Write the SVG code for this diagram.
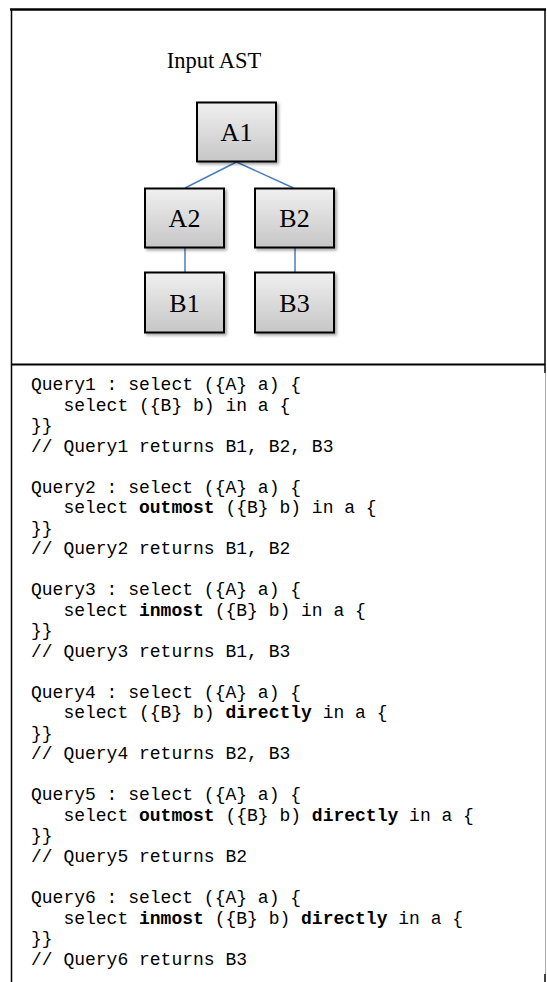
<svg xmlns="http://www.w3.org/2000/svg" width="547" height="982" viewBox="0 0 547 982">
<style>
.node rect{fill:url(#g);stroke:#000;stroke-width:2;filter:url(#sh)}
.node text{font-family:"Liberation Serif",serif;font-size:26px;text-anchor:middle;fill:#000}
.title{font-family:"Liberation Serif",serif;font-size:22.5px;text-anchor:middle;fill:#000}
.code{font-family:"Liberation Mono",monospace;font-size:18px;fill:#000}
.b{font-weight:bold}
.conn line{stroke:#4a7ebb;stroke-width:1.5}
</style>
<defs>
<linearGradient id="g" x1="0" y1="0" x2="0" y2="1">
<stop offset="0" stop-color="#f0f0f0"/>
<stop offset="1" stop-color="#c6c6c6"/>
</linearGradient>
<filter id="sh" x="-20%" y="-20%" width="150%" height="150%">
<feDropShadow dx="2" dy="2" stdDeviation="1.5" flood-color="#000" flood-opacity="0.35"/>
</filter>
</defs>
<rect x="0" y="0" width="547" height="982" fill="#fff"/>
<g id="frame" fill="none">
<line x1="10" y1="9.5" x2="546" y2="9.5" stroke="#000" stroke-width="2.5"/>
<line x1="11.5" y1="9" x2="11.5" y2="982" stroke="#000" stroke-width="1.5"/>
<line x1="545" y1="9" x2="545" y2="373" stroke="#000" stroke-width="1.5"/>
<line x1="545.5" y1="373" x2="545.5" y2="974" stroke="#aaa" stroke-width="1"/>
<line x1="545" y1="974" x2="545" y2="982" stroke="#000" stroke-width="1.5"/>
<line x1="11" y1="364.5" x2="545" y2="364.5" stroke="#000" stroke-width="2"/>
</g>
<text class="title" x="214" y="68">Input AST</text>
<g id="connectors" class="conn">
<line x1="236.5" y1="162" x2="185" y2="188"/>
<line x1="236.5" y1="162" x2="293.5" y2="188"/>
<line x1="185" y1="248" x2="185" y2="272"/>
<line x1="295" y1="248" x2="295" y2="272"/>
</g>
<g id="A1" class="node"><rect x="197" y="102.5" width="79" height="59"/><text x="236.5" y="141">A1</text></g>
<g id="A2" class="node"><rect x="145" y="188.5" width="79" height="59"/><text x="184.5" y="227">A2</text></g>
<g id="B2" class="node"><rect x="255" y="188.5" width="79" height="59"/><text x="294.5" y="227">B2</text></g>
<g id="B1" class="node"><rect x="145" y="272.5" width="79" height="60"/><text x="184.5" y="312">B1</text></g>
<g id="B3" class="node"><rect x="255" y="272.5" width="79" height="60"/><text x="294.5" y="312">B3</text></g>
<g id="code" class="code">
<text x="31" y="390">Query1 : select ({A} a) {</text>
<text x="63.4" y="410.5">select ({B} b) in a {</text>
<text x="31" y="431">}}</text>
<text x="31" y="451.6">// Query1 returns B1, B2, B3</text>

<text x="31" y="492.6">Query2 : select ({A} a) {</text>
<text x="63.4" y="513.1">select <tspan class="b">outmost</tspan> ({B} b) in a {</text>
<text x="31" y="533.6">}}</text>
<text x="31" y="554.2">// Query2 returns B1, B2</text>

<text x="31" y="595.2">Query3 : select ({A} a) {</text>
<text x="63.4" y="615.7">select <tspan class="b">inmost</tspan> ({B} b) in a {</text>
<text x="31" y="636.2">}}</text>
<text x="31" y="656.8">// Query3 returns B1, B3</text>

<text x="31" y="697.8">Query4 : select ({A} a) {</text>
<text x="63.4" y="718.3">select ({B} b) <tspan class="b">directly</tspan> in a {</text>
<text x="31" y="738.8">}}</text>
<text x="31" y="759.4">// Query4 returns B2, B3</text>

<text x="31" y="800.4">Query5 : select ({A} a) {</text>
<text x="63.4" y="820.9">select <tspan class="b">outmost</tspan> ({B} b) <tspan class="b">directly</tspan> in a {</text>
<text x="31" y="841.4">}}</text>
<text x="31" y="862">// Query5 returns B2</text>

<text x="31" y="903">Query6 : select ({A} a) {</text>
<text x="63.4" y="923.5">select <tspan class="b">inmost</tspan> ({B} b) <tspan class="b">directly</tspan> in a {</text>
<text x="31" y="944">}}</text>
<text x="31" y="964.6">// Query6 returns B3</text>
</g>
</svg>
